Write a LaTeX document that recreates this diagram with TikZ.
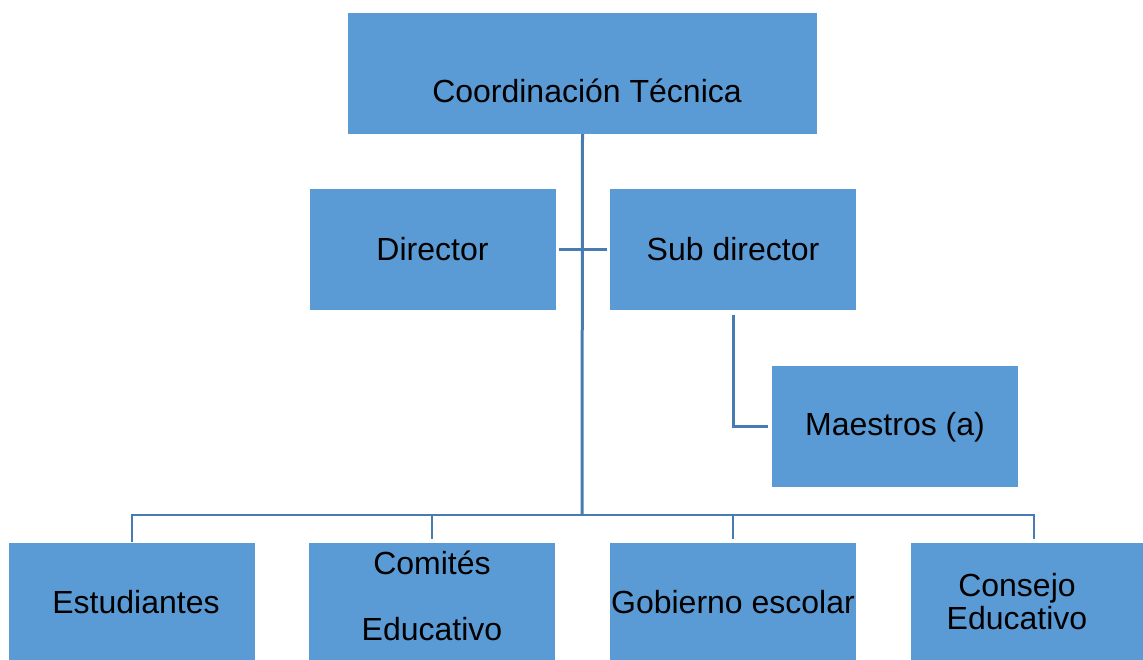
\documentclass[tikz,border=0pt]{standalone}
\usepackage{fontspec}
\setmainfont{Liberation Sans}
\definecolor{boxblue}{RGB}{91,155,213}
\definecolor{lineblue}{RGB}{72,123,178}
\tikzset{
  box/.style={fill=boxblue, draw=none, rectangle, inner sep=0pt, minimum width=246pt, minimum height=121pt},
  txt/.style={font=\fontsize{32}{38}\selectfont, text=black, inner sep=0pt, align=center},
  conn/.style={draw=lineblue, line width=3pt},
}
\begin{document}
\begin{tikzpicture}[x=1pt,y=-1pt]
\useasboundingbox (0,0) rectangle (1143,660);
\clip (0,0) rectangle (1143,660);
% boxes
\node[box, minimum width=469pt] (coord) at (582.5,73.5) {};
\node[box] (dir) at (432.5,250) {};
\node[box] (sub) at (733,250) {};
\node[box] (mae) at (894.5,426.5) {};
\node[box] (est) at (132,603) {};
\node[box] (com) at (432,603) {};
\node[box] (gob) at (733,603) {};
\node[box] (con) at (1034,603) {};
% texts
\node[txt] (tcoord) at (587,91) {Coordinación Técnica};
\node[txt] (tdir) at (432.5,249) {Director};
\node[txt] (tsub) at (733,249) {Sub director};
\node[txt] (tmae) at (895,427) {Maestros (a)};
\node[txt] (test) at (136,602) {Estudiantes};
\node[txt] (tcom1) at (432,563) {Comités};
\node[txt] (tcom2) at (432,629) {Educativo};
\node[txt] (tgob) at (733,602) {Gobierno escolar};
\node[txt, font=\fontsize{32}{33}\selectfont] (tcon) at (1017,602) {Consejo\\Educativo};
% connectors
\coordinate (j) at (582,515);
\draw[conn] (coord.south) -- (j);
\draw[conn, shorten <=3pt, shorten >=3pt] (dir.east) -- (sub.west);
\draw[conn, shorten <=4pt, shorten >=3pt] (sub.south) |- (mae.west);
\draw[conn, line width=2.5pt, shorten >=3pt] (est.north) |- (j) -| (con.north);
\draw[conn, line width=2.5pt, shorten >=3pt] (j -| com.north) -- (com.north);
\draw[conn, line width=2.5pt, shorten >=3pt] (j -| gob.north) -- (gob.north);
\end{tikzpicture}
\end{document}
